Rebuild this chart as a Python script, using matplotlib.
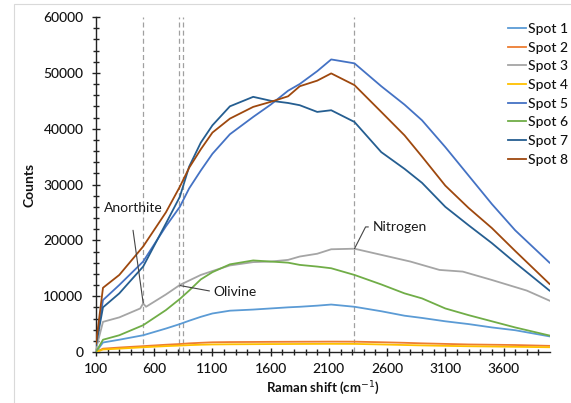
import matplotlib
matplotlib.use("Agg")
import matplotlib.pyplot as plt
from matplotlib.ticker import MultipleLocator, FixedLocator
from matplotlib.patches import Rectangle

plt.rcParams['font.family'] = ['Lato', 'DejaVu Sans']

# ---------------- data ----------------
x = [100, 160, 300, 505, 700, 820, 900, 1000, 1100, 1250, 1450, 1600, 1750,
     1850, 2000, 2120, 2320, 2550, 2750, 2900, 3100, 3300, 3500, 3700, 3995]

spot1 = [0, 1700, 2200, 3000, 4200, 5000, 5600, 6300, 6900, 7400, 7600, 7800, 8000,
         8100, 8300, 8500, 8100, 7300, 6500, 6100, 5500, 5000, 4400, 3900, 2800]
spot2 = [0, 600, 800, 1050, 1300, 1430, 1550, 1650, 1740, 1780, 1800, 1820, 1830,
         1840, 1850, 1860, 1850, 1750, 1650, 1550, 1450, 1350, 1300, 1250, 1100]
spot4 = [0, 450, 600, 850, 1050, 1150, 1230, 1300, 1350, 1380, 1400, 1420, 1430,
         1440, 1450, 1460, 1450, 1350, 1250, 1180, 1100, 1030, 980, 930, 850]
spot5 = [1500, 9300, 12000, 16200, 22500, 26000, 29300, 32500, 35500, 39000, 42100, 44300, 46800,
         48000, 50300, 52400, 51700, 47600, 44300, 41500, 36700, 31600, 26500, 21800, 16000]
spot6 = [0, 2200, 3000, 4800, 7500, 9500, 11000, 13000, 14300, 15700, 16400, 16200, 16000,
         15600, 15300, 15000, 13800, 12100, 10500, 9600, 7800, 6600, 5500, 4400, 2950]
spot7 = [1200, 8000, 10500, 15300, 23000, 27800, 33200, 37500, 40600, 44000, 45700, 45000, 44600,
         44200, 43000, 43300, 41200, 35800, 32800, 30300, 26000, 22700, 19500, 16000, 11000]
spot8 = [1500, 11500, 13800, 18900, 25000, 29600, 33000, 36300, 39300, 41800, 43900, 44800, 45800,
         47600, 48600, 49900, 47800, 43000, 38800, 35000, 29800, 25800, 22200, 18100, 12200]

x_spot3 = [100, 160, 300, 480, 505, 530, 700, 820, 900, 1000, 1100, 1250, 1450, 1600, 1750,
           1850, 2000, 2120, 2320, 2550, 2800, 3050, 3250, 3500, 3800, 3995]
spot3 = [500, 5400, 6200, 7800, 8700, 8100, 10300, 12000, 12800, 13800, 14500, 15500, 16100, 16200, 16500,
         17100, 17600, 18400, 18500, 17400, 16200, 14700, 14400, 12900, 11000, 9200]

series = [
    ("Spot 1", x, spot1, "#5B9BD5"),
    ("Spot 2", x, spot2, "#ED7D31"),
    ("Spot 3", x_spot3, spot3, "#A5A5A5"),
    ("Spot 4", x, spot4, "#FFC000"),
    ("Spot 5", x, spot5, "#4472C4"),
    ("Spot 6", x, spot6, "#70AD47"),
    ("Spot 7", x, spot7, "#255E91"),
    ("Spot 8", x, spot8, "#9E480E"),
]

peak_lines = [505, 816, 845, 2320]
x_ticks = [100, 600, 1100, 1600, 2100, 2600, 3100, 3600]

# ---------------- figure ----------------
W, H = 571, 403
fig = plt.figure(figsize=(W / 100, H / 100), dpi=100)
fig.patches.append(Rectangle((14 / W, -0.1), 1.2, (H - 4) / H + 0.1, transform=fig.transFigure,
                             fill=False, edgecolor="#d9d9d9", lw=0.8))

ax = fig.add_axes([96 / W, (H - 352) / H, (549.5 - 96) / W, (352 - 17) / H])

for xv in peak_lines:
    ax.axvline(xv, color="#a0a0a0", lw=0.9, ls=(0, (4, 2.5)), zorder=1)

handles = []
for name, xs, ys, c in series:
    h, = ax.plot(xs, ys, color=c, lw=1.3, label=name, zorder=3)
    handles.append(h)

ax.set_xlim(100, 3995)
ax.set_ylim(0, 60000)
ax.xaxis.set_major_locator(FixedLocator(x_ticks))
ax.xaxis.set_minor_locator(MultipleLocator(100))
ax.yaxis.set_major_locator(MultipleLocator(10000))
ax.yaxis.set_minor_locator(MultipleLocator(2000))

for s in ["top", "right"]:
    ax.spines[s].set_visible(False)
for s in ["left", "bottom"]:
    ax.spines[s].set_color("#222222")
    ax.spines[s].set_linewidth(1.0)

ax.tick_params(which="major", direction="inout", length=6, width=1.0, color="#222222",
               labelsize=10, labelcolor="#111111")
ax.tick_params(which="minor", direction="inout", length=5, width=1.0, color="#222222")
ax.tick_params(axis="y", which="major", pad=6)
ax.tick_params(axis="x", which="major", pad=5)
for lab in ax.get_xticklabels() + ax.get_yticklabels():
    lab.set_fontweight("medium")

ax.set_ylabel("Counts", fontsize=10, fontweight="bold", color="#111111", labelpad=6)
ax.set_xlabel("Raman shift (cm$^{-1}$)", fontsize=9.5, fontweight="bold", color="#111111", labelpad=3)

# annotations
ac = "#444444"
tc = "#1a1a1a"
ax.text(422, 25800, "Anorthite", fontsize=10, ha="center", va="center", color=tc)
ax.annotate("", xy=(505, 8800), xytext=(418, 21800),
            arrowprops=dict(arrowstyle="-", color=ac, lw=0.8, shrinkA=0, shrinkB=0))
ax.annotate("Olivine", xy=(822, 11900), xytext=(1110, 10800), fontsize=10, ha="left", va="center",
            color=tc,
            arrowprops=dict(arrowstyle="-", color=ac, lw=0.8, shrinkA=1, shrinkB=0, relpos=(0, 0.5)))
ax.annotate("Nitrogen", xy=(2320, 18500), xytext=(2475, 22400), fontsize=10, ha="left", va="center",
            color=tc,
            arrowprops=dict(arrowstyle="-", color=ac, lw=0.8, shrinkA=1, shrinkB=0, relpos=(0, 0.5),
                            connectionstyle="angle,angleA=0,angleB=63,rad=0"))

leg = fig.legend(handles=handles, loc="upper left", bbox_to_anchor=(508 / W, (H - 23) / H),
                 frameon=False, fontsize=10, handlelength=1.3, handletextpad=0.12,
                 labelspacing=0.48, borderpad=0, borderaxespad=0,
                 prop={"size": 10, "weight": "medium"})
for t in leg.get_texts():
    t.set_color("#111111")

fig.savefig("out.png", dpi=100)
